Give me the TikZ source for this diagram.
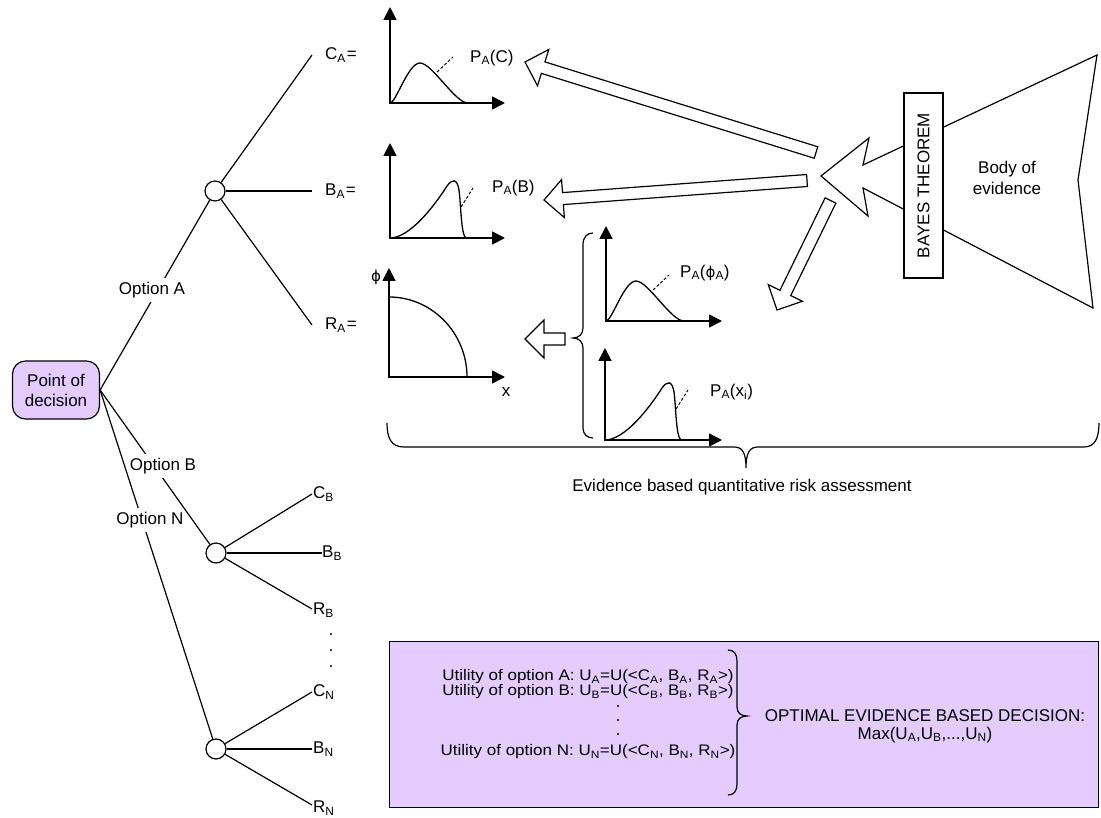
\documentclass[tikz,border=0pt]{standalone}
\usepackage{fontspec}
\setmainfont{Liberation Sans}
\newfontfamily\greekfont{DejaVu Sans}
\usetikzlibrary{arrows.meta,calc}

\definecolor{lilac}{RGB}{229,204,255}

% subscript in running text
\newcommand\lsub[1]{\textsubscript{#1}}
% straight-stroke phi
\newcommand\sphi{{\greekfont\fontsize{15}{18}\selectfont ϕ}}

% axes of a small density plot: origin, y-axis length, x-axis length
\newcommand\plotaxes[3]{\draw[axis] ($(#1)+(0,-#2)$) -- (#1) -- ($(#1)+(#3,0)$);}

% right-skewed bump with its dashed leader
\newcommand\skewbump[1]{%
  \begin{scope}[shift={(#1)}]
    \draw[curve] (0,0) .. controls (6,0) and (18,-40) .. (30,-40)
                       .. controls (42,-40) and (65,0) .. (78,0);
    \draw[guide] (47,-31) -- (63,-46);
  \end{scope}}

% left-skewed density with a steep drop, and its dashed leader
\newcommand\steepbump[1]{%
  \begin{scope}[shift={(#1)}]
    \draw[curve] (0,0) .. controls (20,0) and (45,-33) .. (57,-52)
                       .. controls (62,-59) and (67,-60) .. (69,-48)
                       .. controls (71,-33) and (71,-3) .. (76,0);
    \draw[guide] (71,-31) -- (83,-50);
  \end{scope}}

% hollow block arrow from a tail point to a tip point
\newcommand\hollowarrow[2]{%
  \coordinate (hb) at ($(#2)!19pt!(#1)$);
  \draw[blockarrow] ($(#1)!6pt!90:(#2)$) -- ($(hb)!6pt!-90:(#1)$)
     -- ($(hb)!19pt!-90:(#1)$) -- (#2) -- ($(hb)!19pt!90:(#1)$)
     -- ($(hb)!6pt!90:(#1)$) -- ($(#1)!6pt!-90:(#2)$) -- cycle;}

% one line of the utility list, slightly compressed vertically
\newcommand\uline[1]{\scalebox{1}[0.9]{#1}}

\begin{document}
\begin{tikzpicture}[x=1pt,y=-1pt,
  every node/.style={font=\fontsize{17}{20}\selectfont, inner sep=0pt},
  decision/.style={draw, fill=lilac, rounded corners=13pt, line width=1.2pt,
    minimum width=87pt, minimum height=58pt, align=center},
  chance/.style={circle, draw, fill=white, line width=1.2pt, minimum size=20pt},
  branch/.style={line width=1.2pt},
  optlabel/.style={fill=white, inner xsep=1pt, inner ysep=4pt},
  leaf/.style={anchor=west},
  axis/.style={line width=1.8pt, line join=miter,
    {Triangle[length=13pt,width=13pt]}-{Triangle[length=13pt,width=13pt]}},
  curve/.style={line width=1.3pt},
  guide/.style={line width=1pt, dash pattern=on 3pt off 2pt},
  blockarrow/.style={draw, fill=white, line width=1.2pt, line join=miter},
  outline/.style={draw, line width=1.2pt, line join=miter},
  brace/.style={line width=1.2pt},
  dot/.style={circle, fill=black, minimum size=2.2pt}
]
\useasboundingbox (0,0) rectangle (1101,818);

% ---------------- decision tree ----------------
\node[decision] (dec) at (56,390) {Point of\\decision};
\node[chance] (cA) at (215,191) {};
\node[chance] (cB) at (216,553) {};
\node[chance] (cN) at (216,749) {};

\draw[branch] (dec.east) -- (cN);
\node[optlabel] (optN) at (150,520) {Option N};
\draw[branch] (dec.east) -- (cB);
\node[optlabel] (optB) at (163,466) {Option B};
\draw[branch] (dec.east) -- (cA);
\node[optlabel] (optA) at (152,290) {Option A};

% option A outcomes
\coordinate (eCA) at (312,55);
\coordinate (eBA) at (312,191);
\coordinate (eRA) at (312,325);
\draw[branch] (cA) -- (eCA);
\draw[branch] (cA) -- (eBA);
\draw[branch] (cA) -- (eRA);
\node[leaf] (lCA) at (325,55) {C\lsub{A}\kern1pt=};
\node[leaf] (lBA) at (325,191) {B\lsub{A}\kern1pt=};
\node[leaf] (lRA) at (325,325) {R\lsub{A}\kern1pt=};

% option B outcomes
\coordinate (eCB) at (312,494);
\coordinate (eBB) at (322,553);
\coordinate (eRB) at (312,609);
\draw[branch] (cB) -- (eCB);
\draw[branch] (cB) -- (eBB);
\draw[branch] (cB) -- (eRB);
\node[leaf] (lCB) at (313,494) {C\lsub{B}};
\node[leaf] (lBB) at (322,553) {B\lsub{B}};
\node[leaf] (lRB) at (313,610) {R\lsub{B}};
\node[dot] (d1) at (331,634) {};
\node[dot] (d2) at (331,650) {};
\node[dot] (d3) at (331,666) {};

% option N outcomes
\coordinate (eCN) at (312,692);
\coordinate (eBN) at (312,749);
\coordinate (eRN) at (312,805);
\draw[branch] (cN) -- (eCN);
\draw[branch] (cN) -- (eBN);
\draw[branch] (cN) -- (eRN);
\node[leaf] (lCN) at (313,692) {C\lsub{N}};
\node[leaf] (lBN) at (313,749) {B\lsub{N}};
\node[leaf] (lRN) at (313,808) {R\lsub{N}};

% ---------------- distributions ----------------
\coordinate (oC) at (390,103);
\coordinate (oB) at (390,238);
\coordinate (oR) at (389,377);
\coordinate (oP) at (606,321);
\coordinate (oX) at (605,440);

\plotaxes{oC}{96}{115}
\skewbump{oC}
\node[leaf] (pC) at (470,58) {P\lsub{A}(C)};

\plotaxes{oB}{95}{115}
\steepbump{oB}
\node[leaf] (pB) at (492,188) {P\lsub{A}(B)};

\plotaxes{oR}{109}{116}
\draw[curve] (389,297) .. controls (432,297) and (467,333) .. (467,377);
\node (phi) at (376,277) {\sphi};
\node (xl) at (506,392) {x};

\plotaxes{oP}{95}{116}
\skewbump{oP}
\node[leaf] (pP) at (680,273) {P\lsub{A}(\sphi\lsub{A})};

\plotaxes{oX}{92}{117}
\steepbump{oX}
\node[leaf] (pX) at (710,392) {P\lsub{A}(x\lsub{i})};

% brace joining the two parameter densities
\draw[brace] (593,233) .. controls (587,233) and (583,237) .. (583,245) -- (583,328)
  .. controls (583,334) and (579,338) .. (573,338)
  .. controls (579,338) and (583,342) .. (583,348) -- (583,428)
  .. controls (583,434) and (587,438) .. (593,438);

% ---------------- evidence ----------------
\draw[outline] (821,176) -- (869,138) -- (863,165) -- (1097,55) -- (1078,180)
  -- (1093,308) -- (863,188) -- (868,216) -- cycle;
\node[draw, fill=white, line width=1.2pt, rotate=90, minimum width=185pt,
  minimum height=39pt] (bayes) at (923.5,185.5) {BAYES THEOREM};
\node[align=center, font=\fontsize{17}{21}\selectfont] (body) at (1007,178) {Body of\\evidence};

\coordinate (tC) at (816,152.5);  \coordinate (hC) at (525,62);
\coordinate (tB) at (807,180.5);  \coordinate (hB) at (544,200);
\coordinate (tD) at (830.5,200.5);\coordinate (hD) at (777,310);
\coordinate (tR) at (565,339);    \coordinate (hR) at (525,339);
\hollowarrow{tC}{hC}
\hollowarrow{tB}{hB}
\hollowarrow{tD}{hD}
\hollowarrow{tR}{hR}

% brace under the risk assessment
\draw[brace] (387,423) .. controls (387,438) and (391,447) .. (404,447) -- (734,447)
  .. controls (742,447) and (746,452) .. (746,468)
  .. controls (746,452) and (750,447) .. (758,447) -- (1084,447)
  .. controls (1095,447) and (1099,438) .. (1099,423);
\node (qra) at (742,487) {Evidence based quantitative risk assessment};

% ---------------- utilities ----------------
\node[draw, fill=lilac, line width=1pt, minimum width=709pt, minimum height=166pt]
  (ubox) at (743.5,724) {};
\node (uA) at (588,677) {\uline{Utility of option A: U\lsub{A}=U(<C\lsub{A}, B\lsub{A}, R\lsub{A}>)}};
\node (uB) at (588,692) {\uline{Utility of option B: U\lsub{B}=U(<C\lsub{B}, B\lsub{B}, R\lsub{B}>)}};
\node[dot] (u1) at (618,706) {};
\node[dot] (u2) at (618,720) {};
\node[dot] (u3) at (618,734) {};
\node (uN) at (588,752) {\uline{Utility of option N: U\lsub{N}=U(<C\lsub{N}, B\lsub{N}, R\lsub{N}>)}};
\draw[brace] (728,650) .. controls (734,650) and (737,654) .. (737,661) -- (737,707)
  .. controls (737,713) and (741,716) .. (747,716)
  .. controls (741,716) and (737,719) .. (737,725) -- (737,784)
  .. controls (737,791) and (734,795) .. (728,795);
\node (opt) at (925,716) {OPTIMAL EVIDENCE BASED DECISION:};
\node (mx) at (925,735) {Max(U\lsub{A},U\lsub{B},...,U\lsub{N})};
\end{tikzpicture}
\end{document}
